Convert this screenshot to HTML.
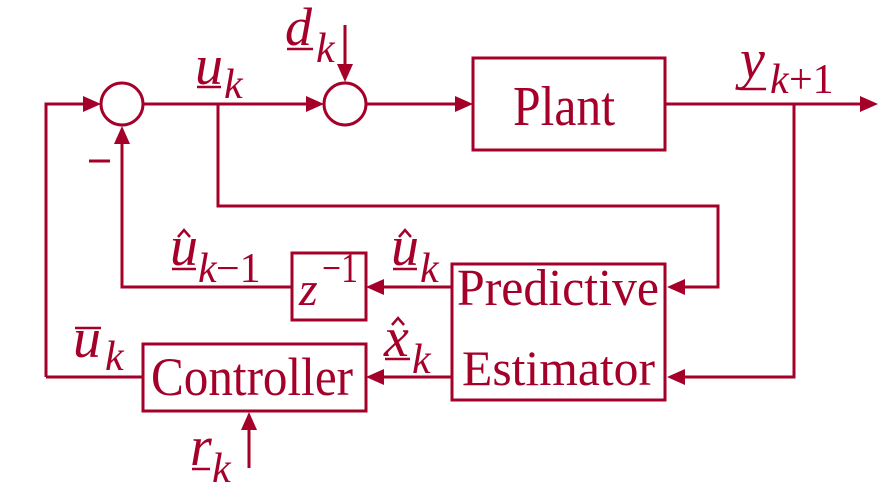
<!DOCTYPE html>
<html><head><meta charset="utf-8"><style>
html,body{margin:0;padding:0;background:#fff;}
svg{display:block}
text{font-family:"Liberation Serif",serif;fill:#A5002A}
.i{font-style:italic}
</style></head><body>
<svg width="886" height="490" viewBox="0 0 886 490" xmlns="http://www.w3.org/2000/svg">
<g stroke="#A5002A" stroke-width="3" fill="none">
<circle cx="122" cy="104" r="21"/>
<circle cx="345" cy="104" r="21"/>
<rect x="473" y="58" width="192" height="92"/>
<rect x="452" y="264" width="213" height="136"/>
<rect x="292" y="253" width="74" height="67"/>
<rect x="143" y="344" width="223" height="67"/>
<polyline points="46,377 46,104 88,104"/>
<line x1="143" y1="104" x2="310" y2="104"/>
<line x1="366" y1="104" x2="458" y2="104"/>
<polyline points="218,104 218,206 718,206 718,287 684,287"/>
<line x1="665" y1="104" x2="862" y2="104"/>
<polyline points="794,104 794,377 684,377"/>
<line x1="452" y1="287" x2="382" y2="287"/>
<polyline points="292,287 122,287 122,143"/>
<line x1="452" y1="377" x2="382" y2="377"/>
<line x1="143" y1="377" x2="46" y2="377"/>
<line x1="249" y1="468" x2="249" y2="428"/>
<line x1="345" y1="25" x2="345" y2="66"/>
<line x1="89" y1="161" x2="110" y2="161"/>
</g>
<g fill="#A5002A">
<polygon points="101,104 83,96 83,112"/>
<polygon points="324,104 306,96 306,112"/>
<polygon points="473,104 455,96 455,112"/>
<polygon points="878,104 860,96 860,112"/>
<polygon points="667,287 685,279 685,295"/>
<polygon points="667,377 685,369 685,385"/>
<polygon points="366,287 384,279 384,295"/>
<polygon points="366,377 384,369 384,385"/>
<polygon points="122,126 114,144 130,144"/>
<polygon points="249,412 241,430 257,430"/>
<polygon points="345,82 337,64 353,64"/>
</g>
<text x="513" y="125" font-size="56" textLength="102" lengthAdjust="spacingAndGlyphs">Plant</text>
<text x="457" y="305" font-size="52" textLength="202" lengthAdjust="spacingAndGlyphs">Predictive</text>
<text x="462" y="385" font-size="50" textLength="193" lengthAdjust="spacingAndGlyphs">Estimator</text>
<text x="151" y="395" font-size="54" textLength="202" lengthAdjust="spacingAndGlyphs">Controller</text>
<text class="i" x="299" y="305" font-size="48">z</text>
<text x="322" y="282" font-size="42" textLength="36" lengthAdjust="spacingAndGlyphs">−1</text>
<g stroke="#A5002A" stroke-width="2.5" fill="none">
<line x1="197" y1="87" x2="221" y2="87"/>
<line x1="287" y1="49" x2="313" y2="49"/>
<line x1="740" y1="89" x2="766" y2="89"/>
<line x1="393" y1="269" x2="417" y2="269"/>
<line x1="172" y1="269" x2="196" y2="269"/>
<line x1="75" y1="328" x2="101" y2="328"/>
<line x1="385" y1="359" x2="410" y2="359"/>
<line x1="192" y1="469" x2="210" y2="469"/>
<polyline points="399,237 405,230 411,237"/>
<polyline points="178,237 184,230 190,237"/>
<polyline points="392,325 398,318 404,325"/>
</g>
<text class="i" x="195" y="84" font-size="56">u</text>
<text class="i" x="224" y="98" font-size="42">k</text>
<text class="i" x="285" y="45" font-size="54">d</text>
<text class="i" x="316" y="62" font-size="42">k</text>
<text class="i" x="740" y="78" font-size="56">y</text>
<text class="i" x="770" y="93" font-size="42">k</text>
<text x="789" y="93" font-size="42">+1</text>
<text class="i" x="391" y="265" font-size="56">u</text>
<text class="i" x="420" y="282" font-size="42">k</text>
<text class="i" x="170" y="265" font-size="56">u</text>
<text class="i" x="198" y="282" font-size="42">k</text>
<text x="216" y="282" font-size="42">−1</text>
<text class="i" x="73" y="357" font-size="56">u</text>
<text class="i" x="105" y="370" font-size="42">k</text>
<text class="i" x="384" y="356" font-size="56">x</text>
<text class="i" x="412" y="373" font-size="42">k</text>
<text class="i" x="190" y="465" font-size="56">r</text>
<text class="i" x="212" y="482" font-size="42">k</text>
</svg>
</body></html>
